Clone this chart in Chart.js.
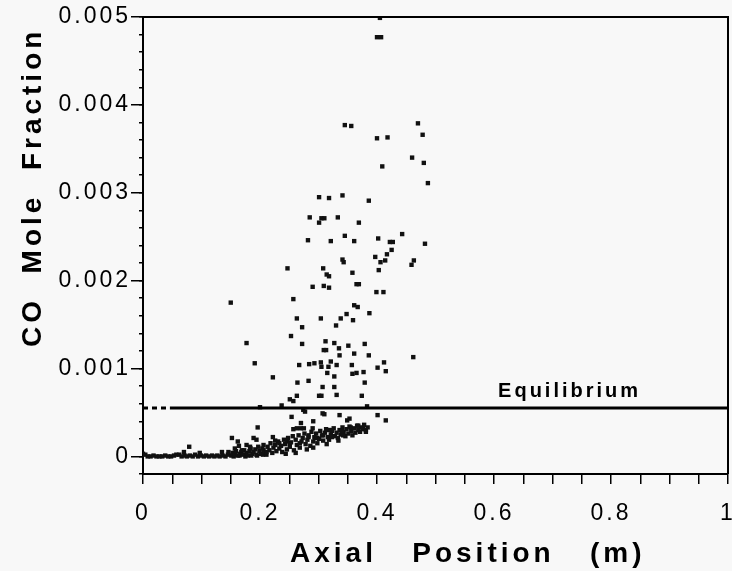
<!DOCTYPE html>
<html><head><meta charset="utf-8">
<script src="https://cdn.jsdelivr.net/npm/chart.js@4.4.1/dist/chart.umd.min.js"></script>
<style>html,body{margin:0;padding:0;background:#f8f8f8;}canvas{display:block;}</style>
</head><body>
<canvas id="c" width="732" height="571"></canvas>
<script>
// ---- axis text ----
const xTickLabels = ['0', '0.2', '0.4', '0.6', '0.8', '1'];
const yTickLabels = ['0', '0.001', '0.002', '0.003', '0.004', '0.005'];
const xTitle = 'Axial   Position   (m)';
const yTitle = 'CO  Mole  Fraction';
const eqLabel = 'Equilibrium';
const equilibriumCO = 0.00055;
const equilibriumX = [0, 0.046, 1];

// ---- data: [axial position (m), CO mole fraction] ----
const highScatter = [
  [0.405,0.00499],[0.400,0.00477],[0.407,0.00477],[0.345,0.00377],[0.356,0.00376],[0.470,0.00379],
  [0.478,0.00366],[0.400,0.00362],[0.418,0.00363],[0.460,0.00340],[0.480,0.00334],[0.409,0.00330],
  [0.487,0.00311],[0.301,0.00295],[0.318,0.00294],[0.341,0.00297],[0.386,0.00291],[0.285,0.00272],
  [0.305,0.00271],[0.310,0.00271],[0.301,0.00266],[0.333,0.00272],[0.369,0.00266],[0.282,0.00246],
  [0.321,0.00245],[0.345,0.00251],[0.361,0.00245],[0.402,0.00248],[0.422,0.00244],[0.427,0.00244],
  [0.443,0.00253],[0.482,0.00242],[0.425,0.00235],[0.417,0.00230],[0.397,0.00227],[0.341,0.00224],
  [0.343,0.00221],[0.406,0.00221],[0.414,0.00223],[0.463,0.00223],[0.459,0.00218],[0.247,0.00214],
  [0.308,0.00214],[0.314,0.00207],[0.318,0.00205],[0.358,0.00209],[0.403,0.00212],[0.290,0.00193],
  [0.309,0.00194],[0.318,0.00192],[0.365,0.00196],[0.369,0.00196],[0.399,0.00187],[0.411,0.00187],
  [0.150,0.00175],[0.257,0.00179],[0.361,0.00172],[0.367,0.00170],[0.263,0.00157],[0.304,0.00157],
  [0.338,0.00157],[0.348,0.00162],[0.359,0.00155],[0.387,0.00163],[0.272,0.00147],[0.330,0.00149]
];
const midScatter = [
  [0.177,0.00129],[0.191,0.00106],[0.222,0.00090],[0.253,0.00137],[0.272,0.00128],[0.312,0.00131],
  [0.309,0.00121],[0.313,0.00121],[0.327,0.00129],[0.335,0.00123],[0.351,0.00126],[0.379,0.00128],
  [0.336,0.00115],[0.361,0.00117],[0.386,0.00115],[0.462,0.00113],[0.267,0.00104],[0.284,0.00105],
  [0.293,0.00106],[0.304,0.00107],[0.305,0.00102],[0.321,0.00108],[0.317,0.00102],[0.331,0.00104],
  [0.357,0.00104],[0.412,0.00107],[0.415,0.00097],[0.401,0.00101],[0.315,0.00095],[0.327,0.00091],
  [0.358,0.00094],[0.365,0.00095],[0.377,0.00096],[0.264,0.00084],[0.283,0.00086],[0.379,0.00084],
  [0.307,0.00079],[0.327,0.00079],[0.301,0.00069],[0.305,0.00069],[0.331,0.00070],[0.374,0.00069],
  [0.251,0.00065],[0.257,0.00063],[0.263,0.00069],[0.237,0.00058],[0.383,0.00057],[0.274,0.00053],
  [0.200,0.00056]
];
const lowScatter = [
  [0.254,0.00045],[0.270,0.00038],[0.291,0.00040],[0.277,0.00051],[0.307,0.00049],[0.310,0.00048],
  [0.336,0.00047],[0.349,0.00041],[0.353,0.00043],[0.401,0.00047],[0.415,0.00041],[0.368,0.00035],
  [0.355,0.00033],[0.381,0.00028],[0.340,0.00029],[0.342,0.00024],[0.317,0.00030],[0.323,0.00030],
  [0.257,0.00031],[0.263,0.00032],[0.270,0.00032],[0.275,0.00032],[0.290,0.00032],[0.222,0.00022],
  [0.283,0.00022],[0.294,0.00021],[0.308,0.00024],[0.323,0.00022],[0.246,0.00017],[0.251,0.00015],
  [0.280,0.00008],[0.206,0.00007],[0.211,0.00005],[0.196,0.00033],[0.152,0.00021],[0.162,0.00017],
  [0.164,0.00012],[0.189,0.00021],[0.194,0.00019],[0.079,0.00011],[0.070,0.00005],[0.097,0.00004],
  [0.135,0.00005],[0.146,0.00005],[0.157,0.00009],[0.169,0.00007],[0.177,0.00013],[0.183,0.00011]
];
const baseline = [
  [0.000,0.00003],[0.004,0.00002],[0.008,0.00000],[0.013,0.00000],[0.018,0.00001],[0.023,0.00000],
  [0.028,0.00000],[0.033,0.00000],[0.038,0.00001],[0.043,0.00000],[0.048,0.00000],[0.053,0.00001],
  [0.057,0.00002],[0.062,0.00002],[0.066,0.00000],[0.071,0.00001],[0.075,0.00000],[0.080,0.00001],
  [0.085,0.00000],[0.089,0.00002],[0.094,0.00000],[0.099,0.00001],[0.104,0.00000],[0.108,0.00001],
  [0.113,0.00000],[0.118,0.00001],[0.122,0.00000],[0.127,0.00001],[0.131,0.00000],[0.136,0.00001],
  [0.141,0.00000],[0.145,0.00002],[0.155,0.00000],[0.165,0.00001],[0.175,0.00000],[0.185,0.00001],
  [0.195,0.00001],[0.205,0.00002]
];
const band = [
  [0.151,0.00001],[0.153,0.00004],[0.157,0.00002],[0.159,0.00006],[0.162,0.00001],[0.166,0.00003],
  [0.168,0.00005],[0.171,0.00002],[0.173,0.00007],[0.177,0.00004],[0.179,0.00001],[0.182,0.00006],
  [0.184,0.00009],[0.187,0.00003],[0.189,0.00005],[0.192,0.00008],[0.194,0.00002],[0.197,0.00011],
  [0.199,0.00006],[0.202,0.00003],[0.204,0.00009],[0.206,0.00013],[0.209,0.00005],[0.211,0.00002],
  [0.213,0.00011],[0.216,0.00007],[0.218,0.00015],[0.221,0.00004],[0.223,0.00010],[0.226,0.00013],
  [0.228,0.00006],[0.231,0.00017],[0.233,0.00009],[0.236,0.00012],[0.238,0.00005],[0.241,0.00019],
  [0.243,0.00014],[0.246,0.00008],[0.248,0.00021],[0.251,0.00011],[0.253,0.00016],[0.256,0.00023],
  [0.258,0.00007],[0.261,0.00019],[0.263,0.00013],[0.266,0.00024],[0.268,0.00010],[0.271,0.00017],
  [0.273,0.00021],[0.276,0.00026],[0.278,0.00014],[0.281,0.00019],[0.283,0.00024],[0.286,0.00012],
  [0.288,0.00028],[0.291,0.00017],[0.293,0.00022],[0.296,0.00026],[0.298,0.00015],[0.301,0.00020],
  [0.303,0.00029],[0.306,0.00024],[0.308,0.00018],[0.311,0.00027],[0.313,0.00031],[0.316,0.00022],
  [0.318,0.00019],[0.321,0.00025],[0.323,0.00029],[0.326,0.00032],[0.328,0.00023],[0.331,0.00027],
  [0.333,0.00021],[0.336,0.00030],[0.338,0.00025],[0.341,0.00033],[0.343,0.00028],[0.346,0.00023],
  [0.348,0.00031],[0.351,0.00026],[0.353,0.00034],[0.356,0.00029],[0.358,0.00024],[0.361,0.00032],
  [0.363,0.00027],[0.366,0.00035],[0.368,0.00030],[0.371,0.00028],[0.373,0.00033],[0.376,0.00031],
  [0.378,0.00036],[0.381,0.00030],[0.384,0.00033],[0.226,0.00018],[0.244,0.00003],[0.261,0.00004],
  [0.291,0.00010],[0.314,0.00014],[0.233,0.00015],[0.268,0.00015],[0.298,0.00021],[0.334,0.00018]
];

const FONT = '"Liberation Sans", Arial, Helvetica, sans-serif';
const toXY = arr => arr.map(p => ({x: p[0], y: p[1]}));
const allPoints = [].concat(toXY(baseline), toXY(band), toXY(lowScatter), toXY(midScatter), toXY(highScatter));

const decor = {
  id: 'decor',
  beforeDraw(chart) { chart.ctx.letterSpacing = '3px'; },
  afterDraw(chart) {
    const {ctx, chartArea: a, scales} = chart;
    ctx.save();
    ctx.letterSpacing = '0px';
    ctx.strokeStyle = '#000';
    ctx.lineWidth = 2;
    ctx.beginPath();
    ctx.moveTo(a.left, a.top); ctx.lineTo(a.right, a.top); ctx.lineTo(a.right, a.bottom);
    ctx.stroke();
    ctx.fillStyle = '#000';
    ctx.textBaseline = 'alphabetic';
    ctx.textAlign = 'left';
    ctx.font = 'bold 28px ' + FONT;
    ctx.letterSpacing = '4px';
    ctx.fillText(xTitle, a.left + 147, a.bottom + 88);
    ctx.save();
    ctx.translate(41, a.bottom - 127);
    ctx.rotate(-Math.PI / 2);
    ctx.fillText(yTitle, 0, 0);
    ctx.restore();
    ctx.font = 'bold 20px ' + FONT;
    ctx.letterSpacing = '3px';
    ctx.fillText(eqLabel, scales.x.getPixelForValue(0.607), scales.y.getPixelForValue(equilibriumCO) - 11);
    ctx.restore();
  }
};

new Chart(document.getElementById('c'), {
  type: 'scatter',
  data: {
    datasets: [
      {
        data: allPoints,
        pointStyle: 'rect',
        pointRadius: 3.1,
        pointHoverRadius: 3.1,
        backgroundColor: '#111',
        borderColor: '#111',
        borderWidth: 0,
        order: 1
      },
      {
        data: equilibriumX.map(x => ({x: x, y: equilibriumCO})),
        showLine: true,
        borderColor: '#000',
        borderWidth: 3,
        pointRadius: 0,
        segment: { borderDash: c => c.p0DataIndex === 0 ? [5, 4] : undefined },
        order: 0
      }
    ]
  },
  plugins: [decor],
  options: {
    responsive: false,
    animation: false,
    events: [],
    layout: { padding: { left: 0, top: 17, right: 4, bottom: 0 } },
    plugins: { legend: { display: false }, tooltip: { enabled: false } },
    scales: {
      x: {
        type: 'linear', position: 'bottom', min: 0, max: 1,
        ticks: {
          stepSize: 0.05, maxTicksLimit: 100, autoSkip: false, maxRotation: 0, padding: 16,
          color: '#000', font: { family: FONT, size: 23 },
          callback: v => { const k = v / 0.2; return Math.abs(k - Math.round(k)) < 1e-6 ? xTickLabels[Math.round(k)] : ''; }
        },
        grid: { drawOnChartArea: false, drawTicks: true, tickLength: 10, color: '#000', lineWidth: 1.5 },
        border: { display: true, color: '#000', width: 2 },
        afterFit(s) { s.height = 97; s.paddingLeft = 0; s.paddingRight = 0; }
      },
      y: {
        type: 'linear', position: 'left', weight: 1, min: -0.0002, max: 0.005,
        ticks: {
          stepSize: 0.001, includeBounds: false, maxTicksLimit: 100, autoSkip: false, padding: 0,
          color: '#000', font: { family: FONT, size: 23 },
          callback: v => { const k = v / 0.001; return Math.abs(k - Math.round(k)) < 1e-6 ? yTickLabels[Math.round(k)] : ''; }
        },
        grid: { drawOnChartArea: false, drawTicks: true, tickLength: 12, color: '#000', lineWidth: 1.5 },
        border: { display: true, color: '#000', width: 2 },
        afterFit(s) { s.width = 143; s.paddingTop = 0; s.paddingBottom = 0; }
      },
      yMinor: {
        type: 'linear', position: 'left', weight: 0, min: -0.0002, max: 0.005,
        ticks: { stepSize: 0.0002, maxTicksLimit: 100, display: false },
        grid: { drawOnChartArea: false, drawTicks: true, tickLength: 4, color: '#000', lineWidth: 1.5 },
        border: { display: false },
        afterFit(s) { s.width = 0; s.paddingTop = 0; s.paddingBottom = 0; }
      }
    }
  }
});
</script>
</body></html>
